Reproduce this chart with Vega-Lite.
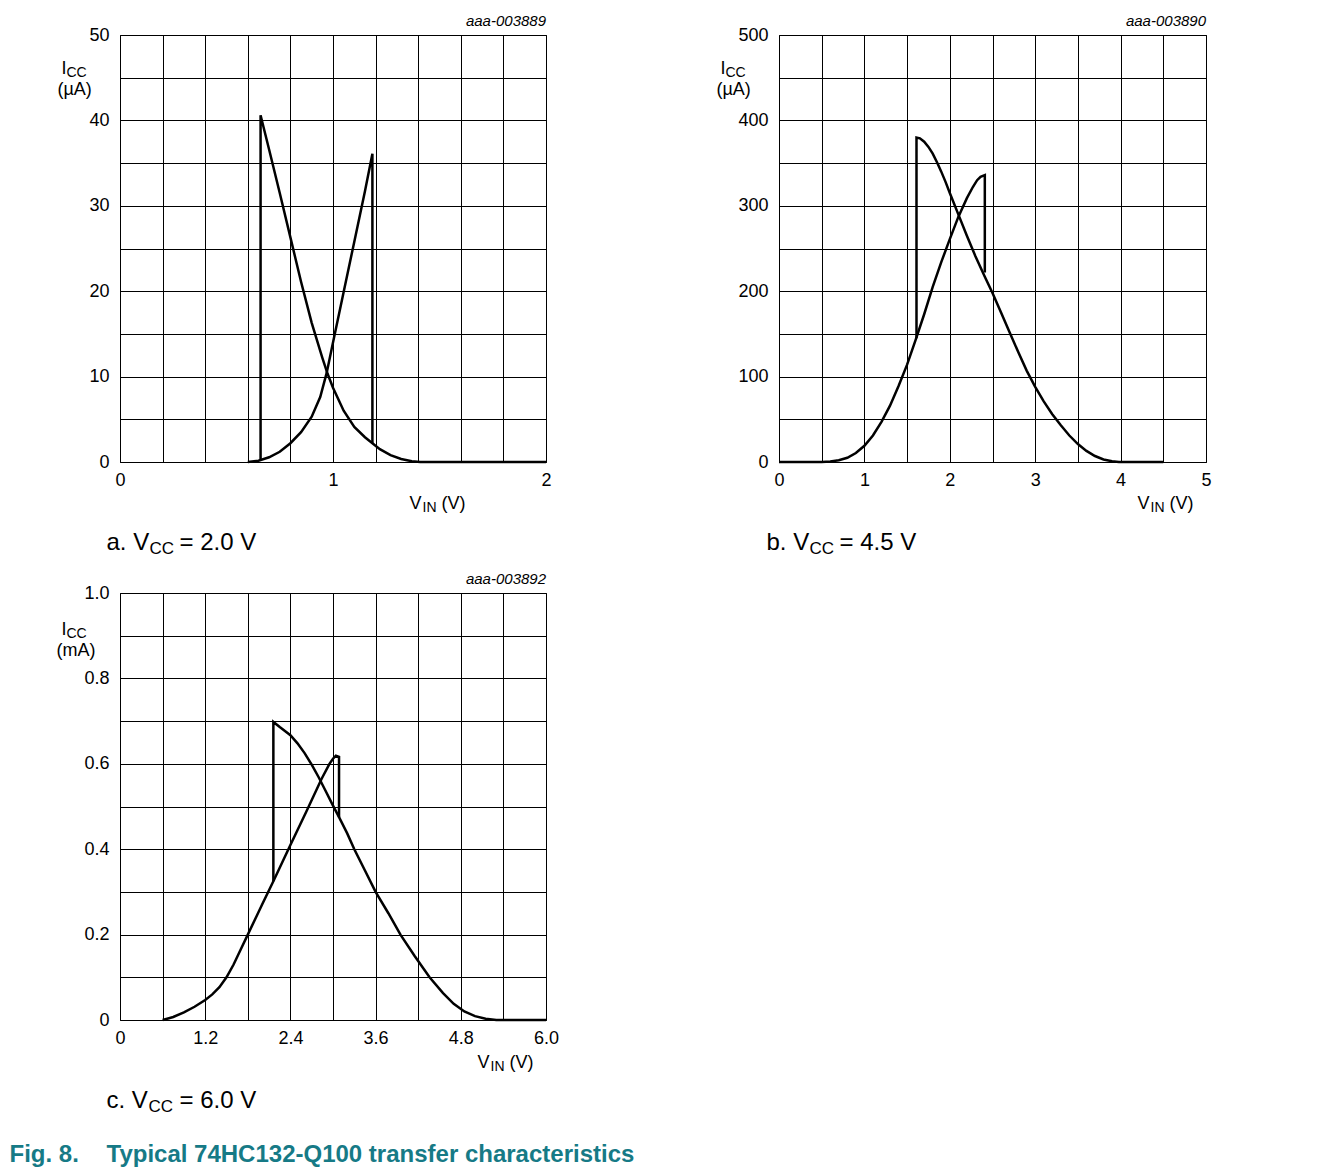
{
  "$schema": "https://vega.github.io/schema/vega-lite/v6.json",
  "autosize": {"type": "none"},
  "padding": {"left": 120, "top": 35, "right": 1205, "bottom": 1134},
  "background": "white",
  "columns": 2,
  "spacing": {"row": 131, "column": 233},
  "bounds": "flush",
  "config": {
    "font": "Liberation Sans",
    "view": {"stroke": "black", "strokeWidth": 1},
    "axis": {"grid": true, "gridColor": "black", "gridOpacity": 1, "gridWidth": 1, "ticks": false, "domain": false, "labelFont": "Liberation Sans", "labelFontSize": 18, "labelColor": "black", "labelFlush": false, "labelOverlap": false, "titleFont": "Liberation Sans", "titleFontWeight": "normal", "titleColor": "black", "titleFontSize": 18, "titleAlign": "left", "titleBaseline": "alphabetic", "titleAngle": 0},
    "axisX": {"labelPadding": 9},
    "axisY": {"labelPadding": 11},
    "title": {"anchor": "end", "frame": "group", "fontStyle": "italic", "fontSize": 15, "fontWeight": "normal", "font": "Liberation Sans", "color": "black", "offset": -3, "baseline": "alphabetic"},
    "line": {"color": "black", "strokeWidth": 2.5}
  },
  "concat": [
    {
      "width": 426, "height": 427,
      "title": "aaa-003889",
      "data": {"values": [
        {"s":"u","k":0,"v":0.6,"i":0},{"s":"u","k":1,"v":0.65,"i":0.15},{"s":"u","k":2,"v":0.7,"i":0.55},{"s":"u","k":3,"v":0.75,"i":1.2},{"s":"u","k":4,"v":0.8,"i":2.2},{"s":"u","k":5,"v":0.85,"i":3.5},{"s":"u","k":6,"v":0.9,"i":5.3},{"s":"u","k":7,"v":0.94,"i":7.6},{"s":"u","k":8,"v":0.97,"i":10.4},{"s":"u","k":9,"v":1.0,"i":14.0},{"s":"u","k":10,"v":1.05,"i":19.9},{"s":"u","k":11,"v":1.1,"i":25.8},{"s":"u","k":12,"v":1.15,"i":31.7},{"s":"u","k":13,"v":1.185,"i":36.1},{"s":"u","k":14,"v":1.185,"i":2.2},
        {"s":"d","k":0,"v":0.66,"i":0.25},{"s":"d","k":1,"v":0.66,"i":40.6},{"s":"d","k":2,"v":0.7,"i":36.6},{"s":"d","k":3,"v":0.75,"i":31.5},{"s":"d","k":4,"v":0.8,"i":26.3},{"s":"d","k":5,"v":0.85,"i":21.1},{"s":"d","k":6,"v":0.9,"i":16.3},{"s":"d","k":7,"v":0.95,"i":12.2},{"s":"d","k":8,"v":0.975,"i":10.3},{"s":"d","k":9,"v":1.0,"i":8.7},{"s":"d","k":10,"v":1.05,"i":6.0},{"s":"d","k":11,"v":1.1,"i":4.1},{"s":"d","k":12,"v":1.15,"i":2.9},{"s":"d","k":13,"v":1.185,"i":2.2},{"s":"d","k":14,"v":1.22,"i":1.5},{"s":"d","k":15,"v":1.27,"i":0.8},{"s":"d","k":16,"v":1.32,"i":0.35},{"s":"d","k":17,"v":1.37,"i":0.1},{"s":"d","k":18,"v":1.41,"i":0},{"s":"d","k":19,"v":2.0,"i":0}
      ]},
      "resolve": {"axis": {"x": "independent", "y": "independent"}},
      "layer": [
        {"mark": {"type": "line"},
         "encoding": {
           "x": {"field": "v", "type": "quantitative", "scale": {"domain": [0, 2], "nice": false, "zero": false},
                 "axis": {"orient": "bottom", "values": [0,0.2,0.4,0.6,0.8,1,1.2,1.4,1.6,1.8,2], "format": ".0f", "labelExpr": "datum.value === 0 || datum.value === 1 || datum.value === 2 ? datum.label : ''", "title": "V", "titleX": 289, "titleY": 46}},
           "y": {"field": "i", "type": "quantitative", "scale": {"domain": [0, 50], "nice": false},
                 "axis": {"orient": "left", "values": [0,5,10,15,20,25,30,35,40,45,50], "labelExpr": "datum.value % 10 === 0 ? datum.label : ''", "title": "I", "titleX": -59, "titleY": 38}},
           "detail": {"field": "s"},
           "order": {"field": "k", "type": "quantitative"}
         }},
        {"mark": {"type": "line", "opacity": 0},
         "encoding": {
           "x": {"field": "v", "type": "quantitative", "axis": {"orient": "bottom", "labels": false, "grid": false, "title": "IN", "titleX": 302, "titleY": 49, "titleFontSize": 14}},
           "y": {"field": "i", "type": "quantitative", "axis": {"orient": "left", "labels": false, "grid": false, "title": "CC", "titleX": -54, "titleY": 41, "titleFontSize": 14}}
         }},
        {"mark": {"type": "line", "opacity": 0},
         "encoding": {
           "x": {"field": "v", "type": "quantitative", "axis": {"orient": "bottom", "labels": false, "grid": false, "title": "(V)", "titleX": 321, "titleY": 46}},
           "y": {"field": "i", "type": "quantitative", "axis": {"orient": "left", "labels": false, "grid": false, "title": "(µA)", "titleX": -63, "titleY": 59}}
         }},
        {"mark": {"type": "line", "opacity": 0},
         "encoding": {
           "x": {"field": "v", "type": "quantitative", "axis": {"orient": "bottom", "labels": false, "grid": false, "title": "a. V", "titleX": -14, "titleY": 87, "titleFontSize": 24}},
           "y": {"field": "i", "type": "quantitative", "axis": null}
         }},
        {"mark": {"type": "line", "opacity": 0},
         "encoding": {
           "x": {"field": "v", "type": "quantitative", "axis": {"orient": "bottom", "labels": false, "grid": false, "title": "CC", "titleX": 29, "titleY": 91, "titleFontSize": 17}},
           "y": {"field": "i", "type": "quantitative", "axis": null}
         }},
        {"mark": {"type": "line", "opacity": 0},
         "encoding": {
           "x": {"field": "v", "type": "quantitative", "axis": {"orient": "bottom", "labels": false, "grid": false, "title": "= 2.0 V", "titleX": 59, "titleY": 87, "titleFontSize": 24}},
           "y": {"field": "i", "type": "quantitative", "axis": null}
         }}
      ]
    },
    {
      "width": 427, "height": 427,
      "title": "aaa-003890",
      "data": {"values": [
        {"s":"u","k":0,"v":0,"i":0},{"s":"u","k":1,"v":0.5,"i":0},{"s":"u","k":2,"v":0.6,"i":0.6},{"s":"u","k":3,"v":0.7,"i":2},{"s":"u","k":4,"v":0.8,"i":5},{"s":"u","k":5,"v":0.9,"i":10.5},{"s":"u","k":6,"v":1.0,"i":19},{"s":"u","k":7,"v":1.1,"i":31},{"s":"u","k":8,"v":1.2,"i":47},{"s":"u","k":9,"v":1.3,"i":66},{"s":"u","k":10,"v":1.4,"i":89},{"s":"u","k":11,"v":1.5,"i":114},{"s":"u","k":12,"v":1.6,"i":143},{"s":"u","k":13,"v":1.7,"i":173},{"s":"u","k":14,"v":1.8,"i":205},{"s":"u","k":15,"v":1.9,"i":234},{"s":"u","k":16,"v":2.0,"i":261},{"s":"u","k":17,"v":2.1,"i":287},{"s":"u","k":18,"v":2.2,"i":309},{"s":"u","k":19,"v":2.27,"i":322},{"s":"u","k":20,"v":2.32,"i":330},{"s":"u","k":21,"v":2.36,"i":334},{"s":"u","k":22,"v":2.41,"i":336},{"s":"u","k":23,"v":2.41,"i":222},
        {"s":"d","k":0,"v":1.61,"i":145},{"s":"d","k":1,"v":1.61,"i":380},{"s":"d","k":2,"v":1.65,"i":379},{"s":"d","k":3,"v":1.7,"i":375},{"s":"d","k":4,"v":1.75,"i":369},{"s":"d","k":5,"v":1.8,"i":361},{"s":"d","k":6,"v":1.85,"i":351},{"s":"d","k":7,"v":1.9,"i":340},{"s":"d","k":8,"v":1.95,"i":328},{"s":"d","k":9,"v":2.0,"i":315},{"s":"d","k":10,"v":2.1,"i":290},{"s":"d","k":11,"v":2.2,"i":265},{"s":"d","k":12,"v":2.3,"i":241},{"s":"d","k":13,"v":2.41,"i":217},{"s":"d","k":14,"v":2.5,"i":198},{"s":"d","k":15,"v":2.6,"i":175},{"s":"d","k":16,"v":2.7,"i":152},{"s":"d","k":17,"v":2.8,"i":129},{"s":"d","k":18,"v":2.9,"i":107},{"s":"d","k":19,"v":3.0,"i":88},{"s":"d","k":20,"v":3.1,"i":71},{"s":"d","k":21,"v":3.2,"i":56},{"s":"d","k":22,"v":3.3,"i":43},{"s":"d","k":23,"v":3.4,"i":31},{"s":"d","k":24,"v":3.5,"i":21},{"s":"d","k":25,"v":3.6,"i":13},{"s":"d","k":26,"v":3.7,"i":7},{"s":"d","k":27,"v":3.8,"i":3},{"s":"d","k":28,"v":3.9,"i":1},{"s":"d","k":29,"v":3.98,"i":0},{"s":"d","k":30,"v":4.5,"i":0}
      ]},
      "resolve": {"axis": {"x": "independent", "y": "independent"}},
      "layer": [
        {"mark": {"type": "line"},
         "encoding": {
           "x": {"field": "v", "type": "quantitative", "scale": {"domain": [0, 5], "nice": false, "zero": false},
                 "axis": {"orient": "bottom", "values": [0,0.5,1,1.5,2,2.5,3,3.5,4,4.5,5], "format": ".0f", "labelExpr": "datum.value % 1 === 0 ? datum.label : ''", "title": "V", "titleX": 358, "titleY": 46}},
           "y": {"field": "i", "type": "quantitative", "scale": {"domain": [0, 500], "nice": false},
                 "axis": {"orient": "left", "values": [0,50,100,150,200,250,300,350,400,450,500], "labelExpr": "datum.value % 100 === 0 ? datum.label : ''", "title": "I", "titleX": -59, "titleY": 38}},
           "detail": {"field": "s"},
           "order": {"field": "k", "type": "quantitative"}
         }},
        {"mark": {"type": "line", "opacity": 0},
         "encoding": {
           "x": {"field": "v", "type": "quantitative", "axis": {"orient": "bottom", "labels": false, "grid": false, "title": "IN", "titleX": 371, "titleY": 49, "titleFontSize": 14}},
           "y": {"field": "i", "type": "quantitative", "axis": {"orient": "left", "labels": false, "grid": false, "title": "CC", "titleX": -54, "titleY": 41, "titleFontSize": 14}}
         }},
        {"mark": {"type": "line", "opacity": 0},
         "encoding": {
           "x": {"field": "v", "type": "quantitative", "axis": {"orient": "bottom", "labels": false, "grid": false, "title": "(V)", "titleX": 390, "titleY": 46}},
           "y": {"field": "i", "type": "quantitative", "axis": {"orient": "left", "labels": false, "grid": false, "title": "(µA)", "titleX": -63, "titleY": 59}}
         }},
        {"mark": {"type": "line", "opacity": 0},
         "encoding": {
           "x": {"field": "v", "type": "quantitative", "axis": {"orient": "bottom", "labels": false, "grid": false, "title": "b. V", "titleX": -13, "titleY": 87, "titleFontSize": 24}},
           "y": {"field": "i", "type": "quantitative", "axis": null}
         }},
        {"mark": {"type": "line", "opacity": 0},
         "encoding": {
           "x": {"field": "v", "type": "quantitative", "axis": {"orient": "bottom", "labels": false, "grid": false, "title": "CC", "titleX": 30, "titleY": 91, "titleFontSize": 17}},
           "y": {"field": "i", "type": "quantitative", "axis": null}
         }},
        {"mark": {"type": "line", "opacity": 0},
         "encoding": {
           "x": {"field": "v", "type": "quantitative", "axis": {"orient": "bottom", "labels": false, "grid": false, "title": "= 4.5 V", "titleX": 60, "titleY": 87, "titleFontSize": 24}},
           "y": {"field": "i", "type": "quantitative", "axis": null}
         }}
      ]
    },
    {
      "width": 426, "height": 427,
      "title": "aaa-003892",
      "data": {"values": [
        {"s":"u","k":0,"v":0.6,"i":0},{"s":"u","k":1,"v":0.75,"i":0.007},{"s":"u","k":2,"v":0.9,"i":0.018},{"s":"u","k":3,"v":1.05,"i":0.031},{"s":"u","k":4,"v":1.2,"i":0.047},{"s":"u","k":5,"v":1.3,"i":0.06},{"s":"u","k":6,"v":1.4,"i":0.077},{"s":"u","k":7,"v":1.5,"i":0.1},{"s":"u","k":8,"v":1.6,"i":0.13},{"s":"u","k":9,"v":1.7,"i":0.165},{"s":"u","k":10,"v":1.8,"i":0.2},{"s":"u","k":11,"v":2.0,"i":0.27},{"s":"u","k":12,"v":2.16,"i":0.325},{"s":"u","k":13,"v":2.4,"i":0.41},{"s":"u","k":14,"v":2.63,"i":0.49},{"s":"u","k":15,"v":2.84,"i":0.565},{"s":"u","k":16,"v":2.95,"i":0.6},{"s":"u","k":17,"v":3.0,"i":0.612},{"s":"u","k":18,"v":3.04,"i":0.619},{"s":"u","k":19,"v":3.085,"i":0.616},{"s":"u","k":20,"v":3.085,"i":0.475},
        {"s":"d","k":0,"v":2.16,"i":0.325},{"s":"d","k":1,"v":2.16,"i":0.698},{"s":"d","k":2,"v":2.25,"i":0.686},{"s":"d","k":3,"v":2.4,"i":0.667},{"s":"d","k":4,"v":2.5,"i":0.648},{"s":"d","k":5,"v":2.6,"i":0.625},{"s":"d","k":6,"v":2.7,"i":0.598},{"s":"d","k":7,"v":2.8,"i":0.568},{"s":"d","k":8,"v":2.9,"i":0.535},{"s":"d","k":9,"v":3.0,"i":0.502},{"s":"d","k":10,"v":3.085,"i":0.475},{"s":"d","k":11,"v":3.2,"i":0.437},{"s":"d","k":12,"v":3.3,"i":0.4},{"s":"d","k":13,"v":3.45,"i":0.35},{"s":"d","k":14,"v":3.6,"i":0.3},{"s":"d","k":15,"v":3.78,"i":0.25},{"s":"d","k":16,"v":3.95,"i":0.2},{"s":"d","k":17,"v":4.15,"i":0.15},{"s":"d","k":18,"v":4.36,"i":0.1},{"s":"d","k":19,"v":4.55,"i":0.063},{"s":"d","k":20,"v":4.7,"i":0.038},{"s":"d","k":21,"v":4.85,"i":0.02},{"s":"d","k":22,"v":5.0,"i":0.009},{"s":"d","k":23,"v":5.15,"i":0.003},{"s":"d","k":24,"v":5.3,"i":0},{"s":"d","k":25,"v":6.0,"i":0}
      ]},
      "resolve": {"axis": {"x": "independent", "y": "independent"}},
      "layer": [
        {"mark": {"type": "line"},
         "encoding": {
           "x": {"field": "v", "type": "quantitative", "scale": {"domain": [0, 6], "nice": false, "zero": false},
                 "axis": {"orient": "bottom", "values": [0,0.6,1.2,1.8,2.4,3,3.6,4.2,4.8,5.4,6], "format": ".1f", "labelExpr": "datum.value === 0 ? '0' : (round(datum.value / 0.6) % 2 === 0 ? datum.label : '')", "title": "V", "titleX": 357, "titleY": 47}},
           "y": {"field": "i", "type": "quantitative", "scale": {"domain": [0, 1], "nice": false},
                 "axis": {"orient": "left", "values": [0,0.1,0.2,0.3,0.4,0.5,0.6,0.7,0.8,0.9,1], "format": ".1f", "labelExpr": "datum.value === 0 ? '0' : (round(datum.value * 10) % 2 === 0 ? datum.label : '')", "title": "I", "titleX": -59, "titleY": 41}},
           "detail": {"field": "s"},
           "order": {"field": "k", "type": "quantitative"}
         }},
        {"mark": {"type": "line", "opacity": 0},
         "encoding": {
           "x": {"field": "v", "type": "quantitative", "axis": {"orient": "bottom", "labels": false, "grid": false, "title": "IN", "titleX": 370, "titleY": 50, "titleFontSize": 14}},
           "y": {"field": "i", "type": "quantitative", "axis": {"orient": "left", "labels": false, "grid": false, "title": "CC", "titleX": -54, "titleY": 44, "titleFontSize": 14}}
         }},
        {"mark": {"type": "line", "opacity": 0},
         "encoding": {
           "x": {"field": "v", "type": "quantitative", "axis": {"orient": "bottom", "labels": false, "grid": false, "title": "(V)", "titleX": 389, "titleY": 47}},
           "y": {"field": "i", "type": "quantitative", "axis": {"orient": "left", "labels": false, "grid": false, "title": "(mA)", "titleX": -64, "titleY": 62}}
         }},
        {"mark": {"type": "line", "opacity": 0},
         "encoding": {
           "x": {"field": "v", "type": "quantitative", "axis": {"orient": "bottom", "labels": false, "grid": false, "title": "c. V", "titleX": -14, "titleY": 87, "titleFontSize": 24}},
           "y": {"field": "i", "type": "quantitative", "axis": null}
         }},
        {"mark": {"type": "line", "opacity": 0},
         "encoding": {
           "x": {"field": "v", "type": "quantitative", "axis": {"orient": "bottom", "labels": false, "grid": false, "title": "CC", "titleX": 28, "titleY": 91, "titleFontSize": 17}},
           "y": {"field": "i", "type": "quantitative", "axis": null}
         }},
        {"mark": {"type": "line", "opacity": 0},
         "encoding": {
           "x": {"field": "v", "type": "quantitative", "axis": {"orient": "bottom", "labels": false, "grid": false, "title": "= 6.0 V", "titleX": 59, "titleY": 87, "titleFontSize": 24}},
           "y": {"field": "i", "type": "quantitative", "axis": null}
         }},
        {"mark": {"type": "line", "opacity": 0},
         "encoding": {
           "x": {"field": "v", "type": "quantitative", "axis": {"orient": "bottom", "labels": false, "grid": false, "title": "Fig. 8.", "titleX": -111, "titleY": 141, "titleFontSize": 24, "titleFontWeight": "bold", "titleColor": "#167a86"}},
           "y": {"field": "i", "type": "quantitative", "axis": null}
         }},
        {"mark": {"type": "line", "opacity": 0},
         "encoding": {
           "x": {"field": "v", "type": "quantitative", "axis": {"orient": "bottom", "labels": false, "grid": false, "title": "Typical 74HC132-Q100 transfer characteristics", "titleX": -14, "titleY": 141, "titleFontSize": 24, "titleFontWeight": "bold", "titleColor": "#167a86"}},
           "y": {"field": "i", "type": "quantitative", "axis": null}
         }}
      ]
    }
  ]
}
